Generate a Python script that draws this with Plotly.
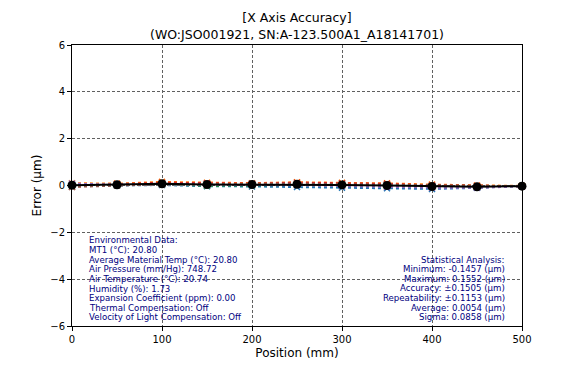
import plotly.graph_objects as go

positions = [0, 50, 100, 150, 200, 250, 300, 350, 400, 450, 500]

run_series = {
    "#1f77b4": [0.02, 0.00, 0.02, -0.03, -0.04, -0.06, -0.09, -0.12, -0.1457, -0.10, -0.02],
    "#ff7f0e": [0.10, 0.08, 0.1552, 0.12, 0.10, 0.14, 0.12, 0.09, 0.04, 0.00, -0.02],
    "#2ca02c": [0.00, 0.02, 0.05, -0.01, 0.01, 0.02, 0.00, -0.02, -0.06, -0.08, -0.03],
    "#d62728": [-0.05, 0.06, 0.12, 0.10, 0.08, 0.12, 0.10, 0.07, 0.01, -0.02, -0.03],
    "#9467bd": [0.08, 0.04, 0.05, 0.02, 0.02, 0.01, -0.03, -0.06, -0.09, -0.10, -0.04],
    "#8c564b": [-0.06, 0.00, 0.05, 0.06, 0.08, 0.08, 0.05, 0.03, -0.02, -0.04, -0.03],
}
average_values = [0.015, 0.033, 0.073, 0.043, 0.042, 0.052, 0.025, -0.002, -0.045, -0.057, -0.028]

x_ticks = [0, 100, 200, 300, 400, 500]
y_ticks = [-6, -4, -2, 0, 2, 4, 6]

env_lines = [
    "Environmental Data:",
    "MT1 (°C): 20.80",
    "Average Material Temp (°C): 20.80",
    "Air Pressure (mm/Hg): 748.72",
    "Air Temperature (°C): 20.74",
    "Humidity (%): 1.73",
    "Expansion Coefficient (ppm): 0.00",
    "Thermal Compensation: Off",
    "Velocity of Light Compensation: Off",
]
stat_lines = [
    "Statistical Analysis:",
    "Minimum: -0.1457 (µm)",
    "Maximum: 0.1552 (µm)",
    "Accuracy: ±0.1505 (µm)",
    "Repeatability: ±0.1153 (µm)",
    "Average: 0.0054 (µm)",
    "Sigma: 0.0858 (µm)",
]

fig = go.Figure()
for color, vals in run_series.items():
    fig.add_trace(go.Scatter(
        x=positions, y=vals, mode="lines+markers",
        line=dict(color=color, width=2, dash="dot"),
        marker=dict(symbol="x-thin", size=6, line=dict(color=color, width=1.5)),
        showlegend=False, cliponaxis=False,
    ))
fig.add_trace(go.Scatter(
    x=positions, y=average_values, mode="lines+markers",
    line=dict(color="black", width=2),
    marker=dict(symbol="circle", size=9, color="black"),
    showlegend=False, cliponaxis=False,
))

font = "DejaVu Sans"
navy = "#000080"
L, R, T, B = 72, 59, 45, 47
W, H = 581, 373
ph = H - T - B
line_h = 9.6

annotations = []
for i, t in enumerate(env_lines):
    ypix = 240.5 + i * line_h
    annotations.append(dict(
        x=0.033, y=(H - B - ypix) / ph, xref="paper", yref="paper",
        text=t, showarrow=False, xanchor="left", yanchor="middle",
        font=dict(family=font, size=8.6, color=navy)))
for i, t in enumerate(stat_lines):
    ypix = 259.5 + i * line_h
    annotations.append(dict(
        x=0.967, y=(H - B - ypix) / ph, xref="paper", yref="paper",
        text=t, showarrow=False, xanchor="right", yanchor="middle",
        font=dict(family=font, size=8.6, color=navy)))

fig.update_layout(
    width=W, height=H,
    margin=dict(l=L, r=R, t=T, b=B, autoexpand=False),
    paper_bgcolor="white", plot_bgcolor="white",
    font=dict(family=font, size=10, color="black"),
    title=dict(text="[X Axis Accuracy]<br>(WO:JSO001921, SN:A-123.500A1_A18141701)",
               x=(L + (W - L - R) / 2) / W, xanchor="center", y=0.94, yanchor="top",
               font=dict(family=font, size=12.5, color="black")),
    annotations=annotations,
)
fig.update_xaxes(
    range=[0, 500], tickvals=x_ticks, ticks="outside", ticklen=4, tickcolor="black",
    showline=True, linecolor="black", linewidth=1, mirror=True,
    showgrid=True, gridcolor="#606060", griddash="3px,2px", gridwidth=0.8,
    zeroline=False, automargin=False, title=dict(text="Position (mm)", standoff=4),
)
fig.update_yaxes(
    range=[-6, 6], tickvals=y_ticks, ticks="outside", ticklen=4, tickcolor="black",
    showline=True, linecolor="black", linewidth=1, mirror=True,
    showgrid=True, gridcolor="#606060", griddash="3px,2px", gridwidth=0.8,
    zeroline=False, automargin=False, title=dict(text="Error (µm)", standoff=6),
)
fig.write_html("out.html", config={"displayModeBar": False},
               post_script="document.body.style.margin='0';")
